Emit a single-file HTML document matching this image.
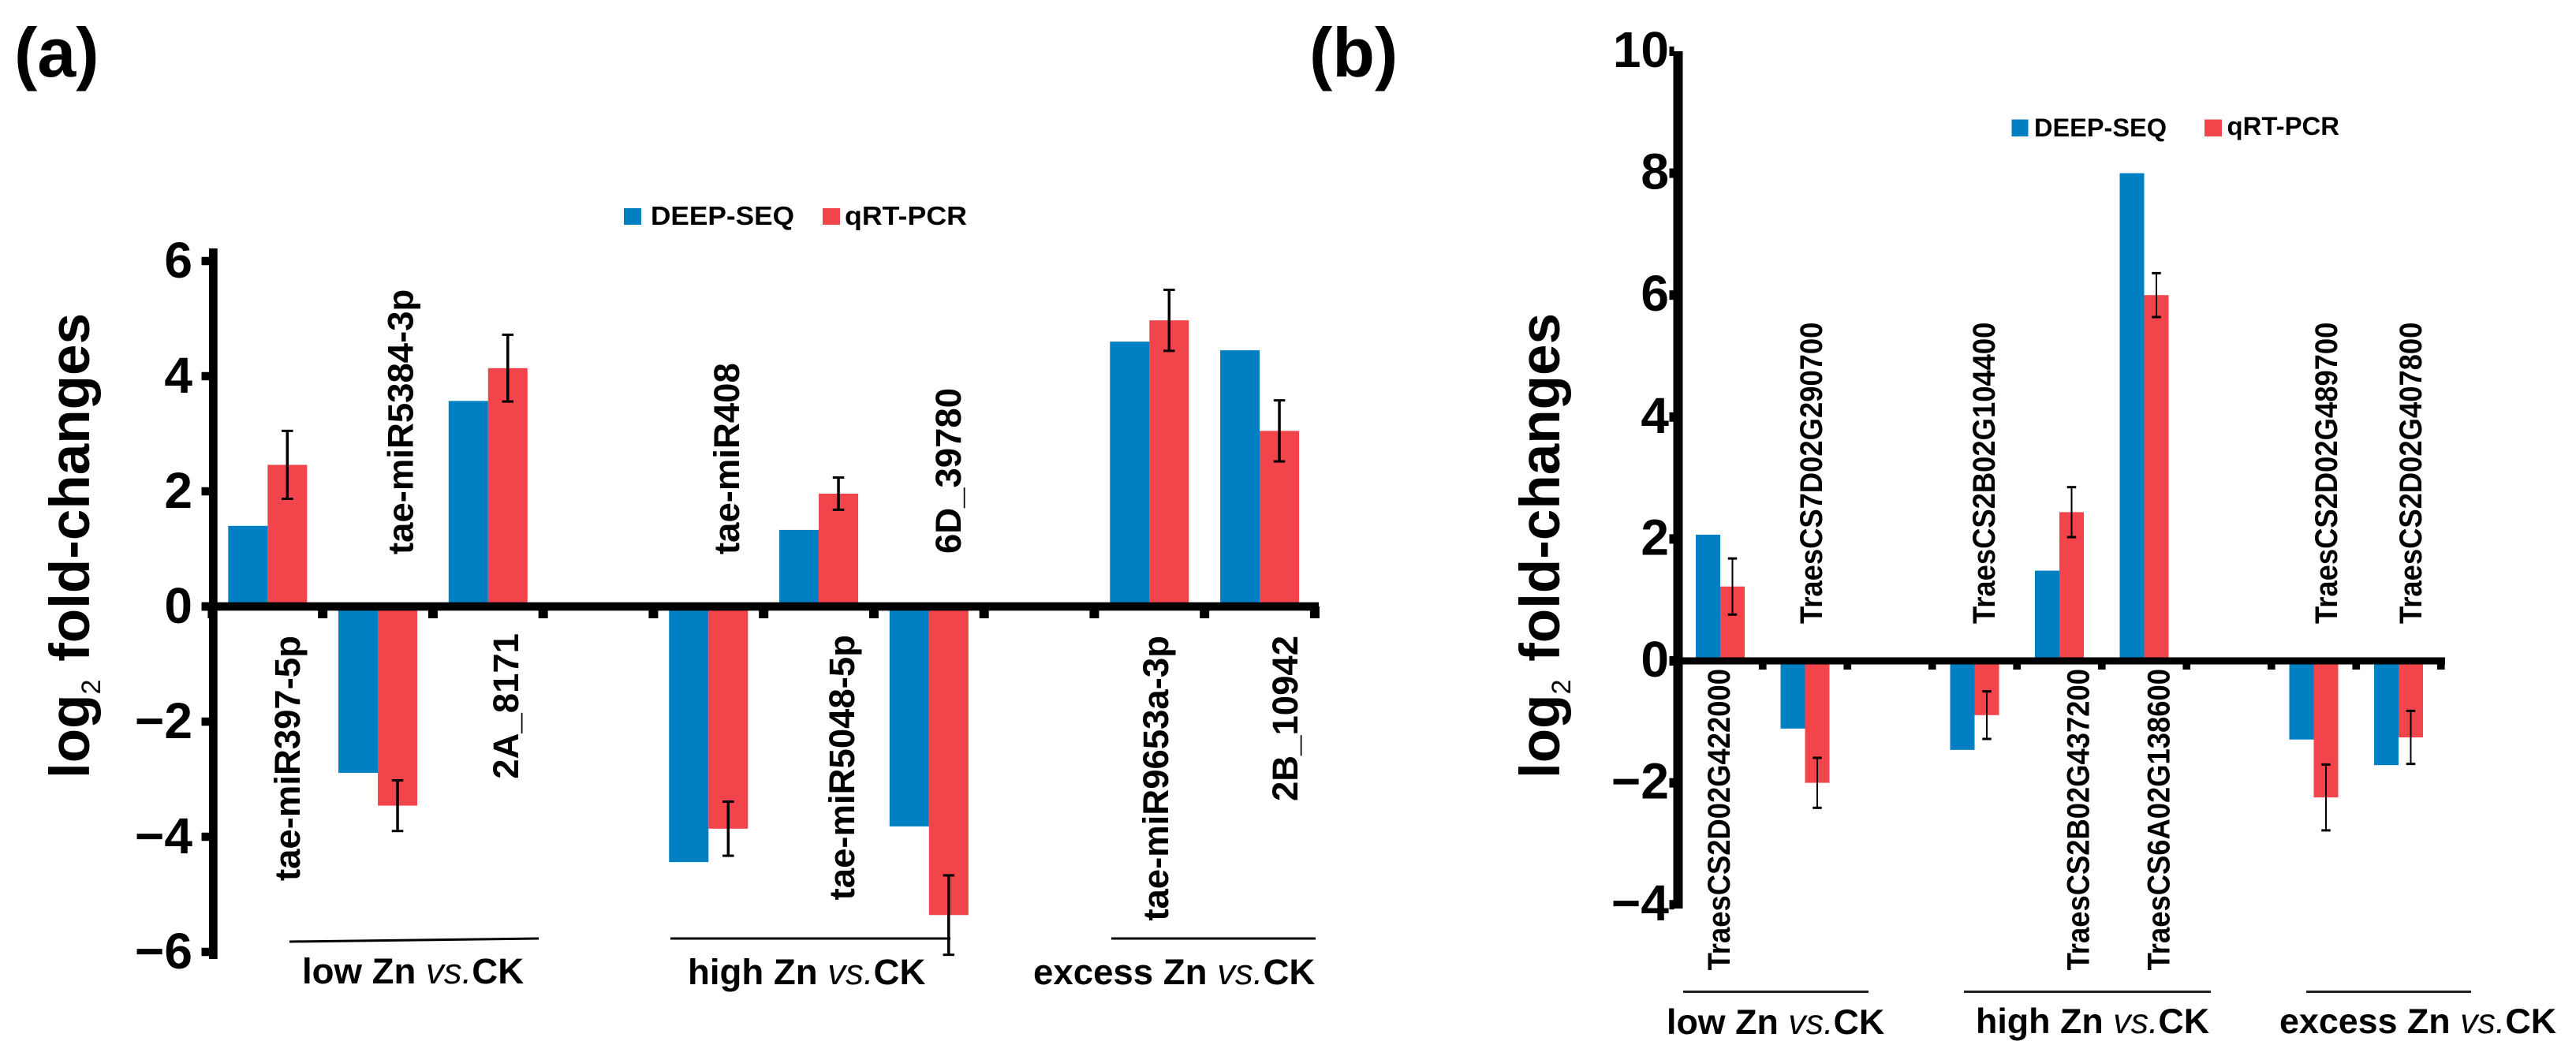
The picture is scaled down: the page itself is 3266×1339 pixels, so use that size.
<!DOCTYPE html>
<html lang="en">
<head>
<meta charset="utf-8">
<title>log2 fold-changes: DEEP-SEQ vs qRT-PCR</title>
<style>
html,body{margin:0;padding:0;background:#fff;width:3266px;height:1339px;overflow:hidden}
svg{display:block}
text{font-family:"Liberation Sans",Arial,sans-serif;font-weight:bold;fill:#000}
</style>
</head>
<body>
<svg id="figure" xmlns="http://www.w3.org/2000/svg" width="3266" height="1339" viewBox="0 0 3266 1339">
<rect width="3266" height="1339" fill="#fff"/>

<g id="panel-a">
  <text x="18" y="97" font-size="88">(a)</text>
  <text transform="translate(113,987) rotate(-90)" font-size="71">log<tspan font-size="34" font-weight="normal" dy="14">2</tspan><tspan dy="-14" dx="3"> fold-changes</tspan></text>
  <g>
    <rect x="791" y="264" width="22" height="21" fill="#0080C3"/>
    <text x="825" y="285" font-size="33.5" textLength="182" lengthAdjust="spacingAndGlyphs">DEEP-SEQ</text>
    <rect x="1043" y="264" width="22" height="21" fill="#F2454B"/>
    <text x="1071" y="285" font-size="33.5" textLength="155" lengthAdjust="spacingAndGlyphs">qRT-PCR</text>
  </g>
  <g font-size="45.5">
    <text text-anchor="end" transform="translate(380,806) rotate(-90)">tae-miR397-5p</text>
    <text transform="translate(523.5,703) rotate(-90)">tae-miR5384-3p</text>
    <text text-anchor="end" transform="translate(657,803) rotate(-90)">2A_8171</text>
    <text transform="translate(937,703) rotate(-90)">tae-miR408</text>
    <text text-anchor="end" transform="translate(1083,805) rotate(-90)">tae-miR5048-5p</text>
    <text transform="translate(1218,702) rotate(-90)">6D_39780</text>
    <text text-anchor="end" transform="translate(1481,806) rotate(-90)">tae-miR9653a-3p</text>
    <text text-anchor="end" transform="translate(1645,806) rotate(-90)">2B_10942</text>
  </g>
  <g font-size="45.6">
    <polygon points="367,1192.5 683,1188.5 683,1191.5 367,1195.5" fill="#000"/>
    <rect x="850" y="1188.5" width="355" height="3" fill="#000"/>
    <rect x="1409" y="1188.5" width="259" height="3" fill="#000"/>
    <text x="383" y="1247">low Zn <tspan font-style="italic" font-weight="normal">vs.</tspan>CK</text>
    <text x="872" y="1248">high Zn <tspan font-style="italic" font-weight="normal">vs.</tspan>CK</text>
    <text x="1310" y="1248">excess Zn <tspan font-style="italic" font-weight="normal">vs.</tspan>CK</text>
  </g>
</g>

<g id="panel-b">
  <text x="1660" y="97" font-size="88">(b)</text>
  <text transform="translate(1977,987) rotate(-90)" font-size="71">log<tspan font-size="34" font-weight="normal" dy="14">2</tspan><tspan dy="-14" dx="3"> fold-changes</tspan></text>
  <g>
    <rect x="2550.5" y="151.5" width="21" height="21.5" fill="#0080C3"/>
    <text x="2579" y="173" font-size="32" textLength="168" lengthAdjust="spacingAndGlyphs">DEEP-SEQ</text>
    <rect x="2795" y="151.5" width="22" height="21.5" fill="#F2454B"/>
    <text x="2823.5" y="171" font-size="32" textLength="142.5" lengthAdjust="spacingAndGlyphs">qRT-PCR</text>
  </g>
  <g font-size="40">
    <text text-anchor="end" transform="translate(2193,848) rotate(-90) scale(.91,1)">TraesCS2D02G422000</text>
    <text transform="translate(2310,791) rotate(-90) scale(.91,1)">TraesCS7D02G290700</text>
    <text transform="translate(2529,791) rotate(-90) scale(.91,1)">TraesCS2B02G104400</text>
    <text text-anchor="end" transform="translate(2648.5,848) rotate(-90) scale(.91,1)">TraesCS2B02G437200</text>
    <text text-anchor="end" transform="translate(2750.5,848) rotate(-90) scale(.91,1)">TraesCS6A02G138600</text>
    <text transform="translate(2963,791) rotate(-90) scale(.91,1)">TraesCS2D02G489700</text>
    <text transform="translate(3070,791) rotate(-90) scale(.91,1)">TraesCS2D02G407800</text>
  </g>
  <g font-size="44.8">
    <rect x="2134" y="1256" width="235" height="3" fill="#222"/>
    <rect x="2490" y="1256" width="313" height="3" fill="#222"/>
    <rect x="2924" y="1256" width="209" height="3" fill="#222"/>
    <text x="2113" y="1311">low Zn <tspan font-style="italic" font-weight="normal">vs.</tspan>CK</text>
    <text x="2505" y="1310">high Zn <tspan font-style="italic" font-weight="normal">vs.</tspan>CK</text>
    <text x="2890" y="1310">excess Zn <tspan font-style="italic" font-weight="normal">vs.</tspan>CK</text>
  </g>
</g>
</svg>

<script>
// Panel (a) data
var aCategories = ["tae-miR397-5p", "tae-miR5384-3p", "2A_8171", "", "tae-miR408", "tae-miR5048-5p", "6D_39780", "", "tae-miR9653a-3p", "2B_10942"];
var aDeepSeq = [1.40, -2.89, 3.57, null, -4.44, 1.33, -3.82, null, 4.60, 4.45];
var aQrtPcr = [2.46, -3.46, 4.14, null, -3.86, 1.96, -5.36, null, 4.97, 3.05];
var aError = [0.59, 0.44, 0.58, null, 0.47, 0.28, 0.69, null, 0.53, 0.53];
var aTicks = [6, 4, 2, 0, -2, -4, -6];

// Panel (b) data
var bCategories = ["TraesCS2D02G422000", "TraesCS7D02G290700", "", "TraesCS2B02G104400", "TraesCS2B02G437200", "TraesCS6A02G138600", "", "TraesCS2D02G489700", "TraesCS2D02G407800"];
var bDeepSeq = [2.07, -1.11, null, -1.46, 1.48, 8.0, null, -1.29, -1.71];
var bQrtPcr = [1.22, -2.0, null, -0.89, 2.44, 6.0, null, -2.24, -1.255];
var bError = [0.46, 0.41, null, 0.39, 0.41, 0.36, null, 0.54, 0.435];
var bTicks = [10, 8, 6, 4, 2, 0, -2, -4];

var NS = 'http://www.w3.org/2000/svg';

function rect(parent, x, y, w, h, fill) {
  var r = document.createElementNS(NS, 'rect');
  r.setAttribute('x', x);
  r.setAttribute('y', y);
  r.setAttribute('width', w);
  r.setAttribute('height', h);
  r.setAttribute('fill', fill);
  parent.appendChild(r);
  return r;
}

function drawPanel(panelId, cfg, categories, deepSeq, qrtPcr, errors, ticks) {
  var panel = document.getElementById(panelId);
  var first = panel.firstChild;
  var y = function (v) { return cfg.zero - v * cfg.unit; };
  var x = function (i) { return cfg.x0 + cfg.step * i; };

  var bars = document.createElementNS(NS, 'g');
  
  
  panel.insertBefore(bars, first);

  categories.forEach(function (cat, i) {
    if (deepSeq[i] !== null) {
      var v1 = deepSeq[i];
      var b1 = rect(bars, x(i) - cfg.barW, Math.min(y(v1), y(0)), cfg.barW, Math.abs(y(v1) - y(0)), '#0080C3');
      
      
    }
    if (qrtPcr[i] !== null) {
      var v2 = qrtPcr[i];
      var b2 = rect(bars, x(i), Math.min(y(v2), y(0)), cfg.barW, Math.abs(y(v2) - y(0)), '#F2454B');
      
      
    }
  });

  var axes = document.createElementNS(NS, 'g');
  
  
  panel.appendChild(axes);

  var yAxis = rect(axes, cfg.axisX, cfg.axisTop, cfg.axisW, cfg.axisBottom - cfg.axisTop, '#000');
  
  

  var xAxis = rect(axes, cfg.axisX - cfg.tickLen, y(0) - cfg.xAxisH / 2, cfg.xAxisEnd - cfg.axisX + cfg.tickLen, cfg.xAxisH, '#000');
  
  

  ticks.forEach(function (t) {
    var tk = rect(axes, cfg.axisX - cfg.tickLen, y(t) - cfg.yTickH / 2, cfg.tickLen + 1, cfg.yTickH, '#000');
    
    
    var lb = document.createElementNS(NS, 'text');
    
    
    lb.setAttribute('x', cfg.labelX);
    lb.setAttribute('y', y(t) + cfg.labelDy);
    lb.setAttribute('text-anchor', 'end');
    lb.setAttribute('font-size', '64');
    lb.textContent = t < 0 ? '\u2212' + Math.abs(t) : String(t);
    axes.appendChild(lb);
  });

  for (var j = 0; j <= categories.length; j++) {
    var tx = x(j) - cfg.step / 2;
    var xt = rect(axes, tx - cfg.xTickW / 2, y(0), cfg.xTickW, cfg.xTickBottom - y(0), '#000');
    
    
  }

  categories.forEach(function (cat, i) {
    if (errors[i] === null) return;
    var cx = x(i) + cfg.barW / 2;
    var hi = y(qrtPcr[i] + errors[i]);
    var lo = y(qrtPcr[i] - errors[i]);
    var eb = document.createElementNS(NS, 'g');
    
    
    rect(eb, cx - cfg.errW / 2, hi, cfg.errW, lo - hi, '#000');
    rect(eb, cx - cfg.capW / 2, hi - 1.5, cfg.capW, 3, '#000');
    rect(eb, cx - cfg.capW / 2, lo - 1.5, cfg.capW, 3, '#000');
    panel.appendChild(eb);
  });
}

drawPanel('panel-a', {
  zero: 769, unit: 73, x0: 339.3, step: 139.75, barW: 50,
  axisX: 265, axisW: 10.7, axisTop: 315, axisBottom: 1216,
  xAxisEnd: 1672, xAxisH: 10.7, tickLen: 9.5, yTickH: 10.5,
  xTickW: 12, xTickBottom: 784, labelX: 244, labelDy: 21, errW: 3.5, capW: 14.5
}, aCategories, aDeepSeq, aQrtPcr, aError, aTicks);

drawPanel('panel-b', {
  zero: 838, unit: 77.3, x0: 2181, step: 107.5, barW: 31,
  axisX: 2121.5, axisW: 12, axisTop: 65, axisBottom: 1152,
  xAxisEnd: 3100, xAxisH: 9, tickLen: 5, yTickH: 12,
  xTickW: 9.7, xTickBottom: 849, labelX: 2116, labelDy: 20, errW: 2, capW: 11.5
}, bCategories, bDeepSeq, bQrtPcr, bError, bTicks);
</script>
</body>
</html>
